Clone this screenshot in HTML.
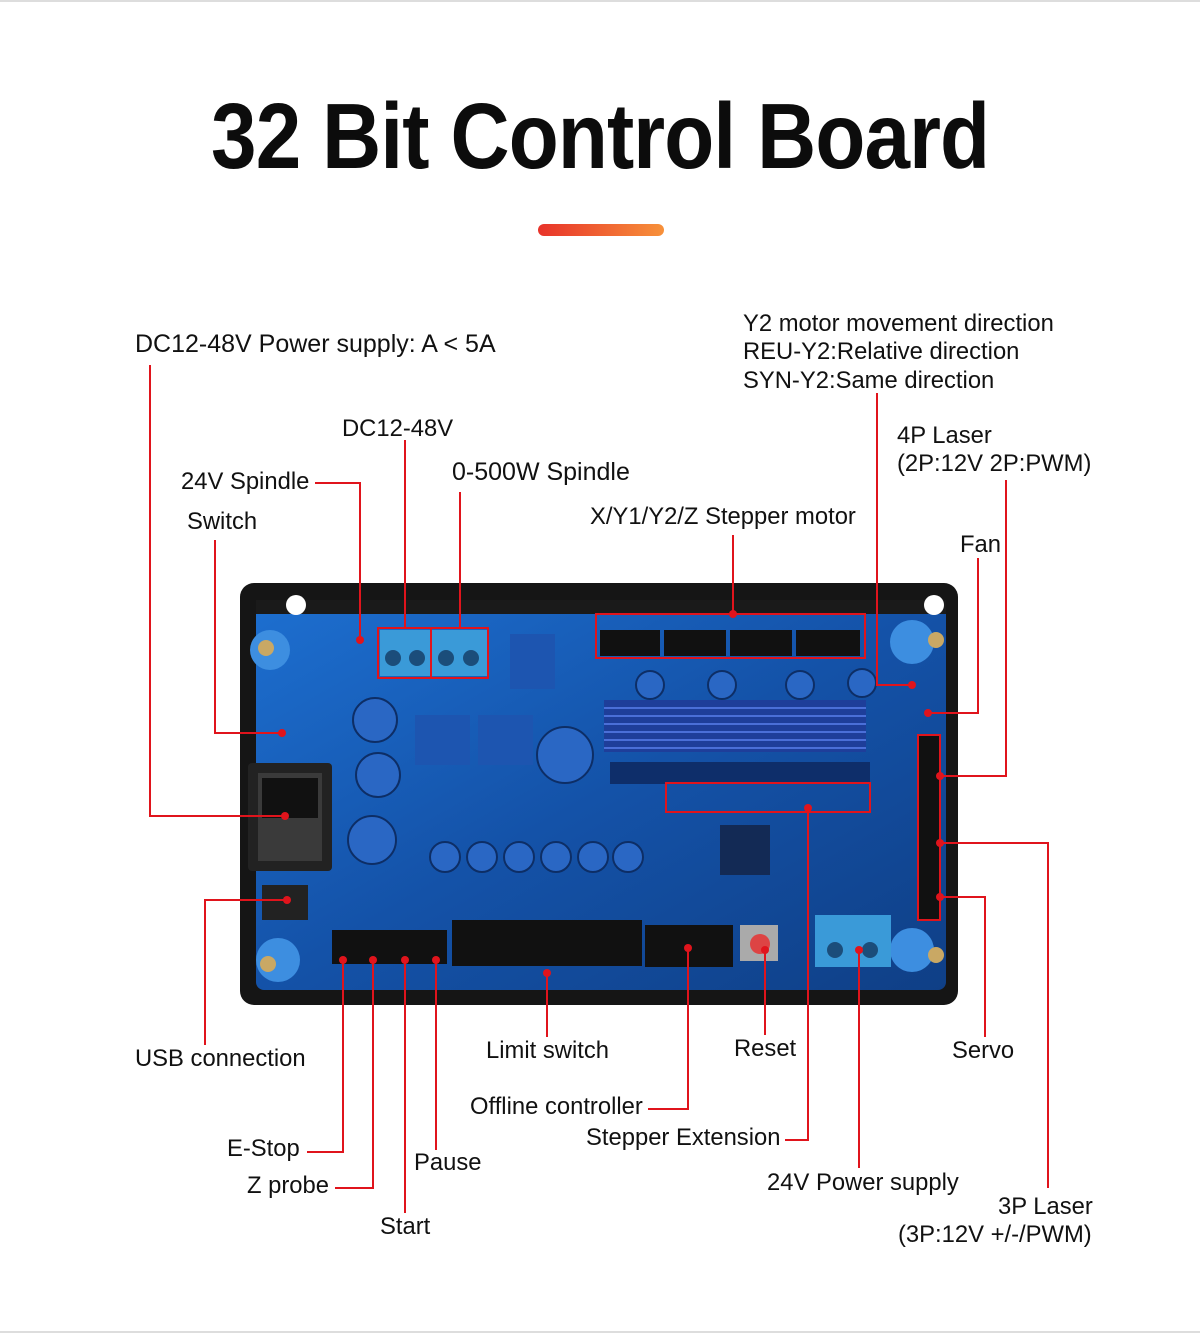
<!DOCTYPE html>
<html><head><meta charset="utf-8"><style>
html,body{margin:0;padding:0;background:#fff;}
body{width:1200px;height:1333px;position:relative;overflow:hidden;font-family:"Liberation Sans",Arial,sans-serif;}
.t{position:absolute;font-size:23.8px;color:#111;white-space:nowrap;line-height:1;}
.title{position:absolute;left:0;width:1200px;top:90px;text-align:center;font-size:93px;font-weight:bold;color:#0c0c0c;line-height:1;}
.title span{display:inline-block;transform:scaleX(0.88);letter-spacing:-1px;}
</style></head><body>
<div style="position:absolute;left:0;top:0;width:1200px;height:2px;background:#ddd"></div>
<div style="position:absolute;left:0;top:1331px;width:1200px;height:2px;background:#ddd"></div>
<div class="title"><span>32 Bit Control Board</span></div>
<div style="position:absolute;left:538px;top:224px;width:126px;height:12px;border-radius:6px;background:linear-gradient(90deg,#e8332a,#f7913a)"></div>

<svg width="1200" height="1333" style="position:absolute;left:0;top:0">
<defs>
<linearGradient id="bl" x1="0" y1="0" x2="1" y2="1"><stop offset="0" stop-color="#1d6fd0"/><stop offset="0.5" stop-color="#1452a8"/><stop offset="1" stop-color="#0f3f86"/></linearGradient>
</defs>
<rect x="240" y="583" width="718" height="422" rx="14" fill="#151515"/>
<rect x="256" y="600" width="690" height="390" rx="8" fill="url(#bl)"/>
<rect x="256" y="600" width="690" height="14" fill="#1a1a1a"/>
<circle cx="296" cy="605" r="10" fill="#fff"/><circle cx="934" cy="605" r="10" fill="#fff"/>
<g fill="#3d8ee0"><circle cx="270" cy="650" r="20"/><circle cx="912" cy="642" r="22"/><circle cx="278" cy="960" r="22"/><circle cx="912" cy="950" r="22"/></g>
<g fill="#c9a864"><circle cx="266" cy="648" r="8"/><circle cx="936" cy="640" r="8"/><circle cx="268" cy="964" r="8"/><circle cx="936" cy="955" r="8"/></g>
<rect x="248" y="763" width="84" height="108" rx="4" fill="#222"/>
<rect x="258" y="773" width="64" height="88" fill="#3a3a3a"/>
<rect x="262" y="778" width="56" height="40" fill="#111"/>
<rect x="262" y="885" width="46" height="35" fill="#222"/>
<rect x="380" y="630" width="50" height="46" fill="#3a9ad8"/><rect x="432" y="630" width="55" height="46" fill="#3a9ad8"/>
<g fill="#1b4d7a"><circle cx="393" cy="658" r="8"/><circle cx="417" cy="658" r="8"/><circle cx="446" cy="658" r="8"/><circle cx="471" cy="658" r="8"/></g>
<rect x="604" y="700" width="262" height="52" fill="#1e3e9a"/>
<g stroke="#4a6fd8" stroke-width="2"><line x1="604" y1="708" x2="866" y2="708"/><line x1="604" y1="716" x2="866" y2="716"/><line x1="604" y1="724" x2="866" y2="724"/><line x1="604" y1="732" x2="866" y2="732"/><line x1="604" y1="740" x2="866" y2="740"/><line x1="604" y1="748" x2="866" y2="748"/></g>
<g fill="#111"><rect x="600" y="630" width="60" height="26"/><rect x="664" y="630" width="62" height="26"/><rect x="730" y="630" width="62" height="26"/><rect x="796" y="630" width="64" height="26"/></g>
<g fill="#2a67c4" stroke="#0d2e66" stroke-width="2">
<circle cx="375" cy="720" r="22"/><circle cx="378" cy="775" r="22"/><circle cx="372" cy="840" r="24"/><circle cx="565" cy="755" r="28"/>
<circle cx="445" cy="857" r="15"/><circle cx="482" cy="857" r="15"/><circle cx="519" cy="857" r="15"/><circle cx="556" cy="857" r="15"/><circle cx="593" cy="857" r="15"/><circle cx="628" cy="857" r="15"/>
<circle cx="650" cy="685" r="14"/><circle cx="722" cy="685" r="14"/><circle cx="800" cy="685" r="14"/><circle cx="862" cy="683" r="14"/>
</g>
<g fill="#1d55b0"><rect x="415" y="715" width="55" height="50"/><rect x="478" y="715" width="55" height="50"/><rect x="510" y="634" width="45" height="55"/></g>
<rect x="610" y="762" width="260" height="22" fill="#0e2e6a"/>
<rect x="720" y="825" width="50" height="50" fill="#132a55"/>
<g fill="#111"><rect x="332" y="930" width="115" height="34"/><rect x="452" y="920" width="190" height="46"/><rect x="645" y="925" width="88" height="42"/></g>
<rect x="740" y="925" width="38" height="36" fill="#aaa"/><circle cx="760" cy="944" r="10" fill="#d44"/>
<rect x="815" y="915" width="76" height="52" fill="#3a9ad8"/>
<g fill="#1b4d7a"><circle cx="835" cy="950" r="8"/><circle cx="870" cy="950" r="8"/></g>
<rect x="918" y="735" width="22" height="185" fill="#111"/>

<g fill="none" stroke="#e0141c" stroke-width="2">
<rect x="378" y="628" width="110" height="50"/><line x1="431" y1="628" x2="431" y2="678"/>
<rect x="596" y="614" width="269" height="44"/>
<rect x="666" y="783" width="204" height="29"/>
<rect x="918" y="735" width="22" height="185"/>
</g>
<g fill="none" stroke="#e0141c" stroke-width="2">
<polyline points="150,365 150,816 285,816"/>
<polyline points="315,483 360,483 360,640"/>
<polyline points="215,540 215,733 282,733"/>
<line x1="405" y1="440" x2="405" y2="628"/>
<line x1="460" y1="492" x2="460" y2="628"/>
<line x1="733" y1="535" x2="733" y2="614"/>
<polyline points="877,393 877,685 912,685"/>
<polyline points="1006,480 1006,776 940,776"/>
<polyline points="978,558 978,713 928,713"/>
<polyline points="205,1045 205,900 287,900"/>
<polyline points="307,1152 343,1152 343,960"/>
<polyline points="335,1188 373,1188 373,960"/>
<line x1="436" y1="1150" x2="436" y2="960"/>
<line x1="405" y1="1213" x2="405" y2="960"/>
<line x1="547" y1="1037" x2="547" y2="973"/>
<line x1="765" y1="1035" x2="765" y2="950"/>
<polyline points="648,1109 688,1109 688,948"/>
<polyline points="785,1140 808,1140 808,808"/>
<line x1="859" y1="1168" x2="859" y2="950"/>
<polyline points="985,1037 985,897 940,897"/>
<polyline points="1048,1188 1048,843 940,843"/>
</g>
<g fill="#e0141c">
<circle cx="285" cy="816" r="4"/><circle cx="360" cy="640" r="4"/><circle cx="282" cy="733" r="4"/><circle cx="733" cy="614" r="4"/><circle cx="912" cy="685" r="4"/><circle cx="940" cy="776" r="4"/><circle cx="928" cy="713" r="4"/><circle cx="287" cy="900" r="4"/><circle cx="343" cy="960" r="4"/><circle cx="373" cy="960" r="4"/><circle cx="436" cy="960" r="4"/><circle cx="405" cy="960" r="4"/><circle cx="547" cy="973" r="4"/><circle cx="765" cy="950" r="4"/><circle cx="688" cy="948" r="4"/><circle cx="808" cy="808" r="4"/><circle cx="859" cy="950" r="4"/><circle cx="940" cy="897" r="4"/><circle cx="940" cy="843" r="4"/>
</g>
</svg>

<div class="t" style="left:135px;top:332px;font-size:25px">DC12-48V Power supply: A &lt; 5A</div>
<div class="t" style="left:743px;top:312px">Y2 motor movement direction</div>
<div class="t" style="left:743px;top:340px">REU-Y2:Relative direction</div>
<div class="t" style="left:743px;top:369px">SYN-Y2:Same direction</div>
<div class="t" style="left:342px;top:417px">DC12-48V</div>
<div class="t" style="left:897px;top:424px">4P Laser</div>
<div class="t" style="left:897px;top:452px">(2P:12V 2P:PWM)</div>
<div class="t" style="left:452px;top:460px;font-size:25px">0-500W Spindle</div>
<div class="t" style="left:181px;top:470px">24V Spindle</div>
<div class="t" style="left:590px;top:505px">X/Y1/Y2/Z Stepper motor</div>
<div class="t" style="left:187px;top:510px">Switch</div>
<div class="t" style="left:960px;top:533px">Fan</div>
<div class="t" style="left:135px;top:1047px">USB connection</div>
<div class="t" style="left:486px;top:1039px">Limit switch</div>
<div class="t" style="left:734px;top:1037px">Reset</div>
<div class="t" style="left:952px;top:1039px">Servo</div>
<div class="t" style="left:470px;top:1095px">Offline controller</div>
<div class="t" style="left:586px;top:1126px">Stepper Extension</div>
<div class="t" style="left:227px;top:1137px">E-Stop</div>
<div class="t" style="left:414px;top:1151px">Pause</div>
<div class="t" style="left:767px;top:1171px">24V Power supply</div>
<div class="t" style="left:247px;top:1174px">Z probe</div>
<div class="t" style="left:998px;top:1195px">3P Laser</div>
<div class="t" style="left:380px;top:1215px">Start</div>
<div class="t" style="left:898px;top:1223px">(3P:12V +/-/PWM)</div>
</body></html>
